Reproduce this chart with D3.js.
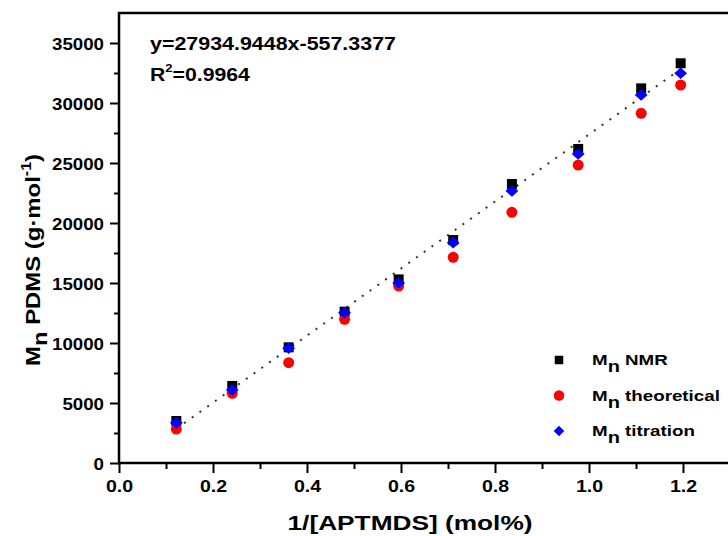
<!DOCTYPE html>
<html>
<head>
    <title>Mn PDMS vs 1/[APTMDS]</title>
    <script src="https://d3js.org/d3.v7.min.js"></script>
    <style>
        body { margin: 0; background: #fff; }
        text { font-family: "Liberation Sans", Arial, sans-serif; font-weight: bold; fill: #000; }
        .domain { display: none; }
        .tick line { stroke: #000; stroke-width: 2; }
    </style>
</head>
<body>
    <div id="chart"></div>
    <script>
        // values
        const xVals = [0.122, 0.241, 0.361, 0.480, 0.595, 0.711, 0.836, 0.977, 1.111, 1.195];
        const nmr = [3500, 6420, 9640, 12610, 15300, 18580, 23250, 26170, 31220, 33310];
        const theoretical = [2830, 5810, 8360, 11970, 14750, 17140, 20890, 24830, 29140, 31500];
        const titration = [3360, 6080, 9560, 12530, 15000, 18360, 22670, 25750, 30670, 32480];
        const xTicks = [0, 0.2, 0.4, 0.6, 0.8, 1.0, 1.2];
        const yTicks = [0, 5000, 10000, 15000, 20000, 25000, 30000, 35000];
        const fitSlope = 27934.9448, fitIntercept = -557.3377;

        const width = 728, height = 536;
        const plotLeft = 119, plotRight = 777, plotTop = 13, plotBottom = 463;

        const svg = d3.select("#chart").append("svg")
            .attr("width", width).attr("height", height);

        const x = d3.scaleLinear().domain([0, 1.4]).range([plotLeft, plotRight]);
        const y = d3.scaleLinear().domain([0, 37500]).range([plotBottom, plotTop]);

        // widen text a little, the source picture is stretched sideways
        function stretch(sel, k) {
            sel.each(function() {
                const w = this.getComputedTextLength();
                d3.select(this).attr("textLength", w * k).attr("lengthAdjust", "spacingAndGlyphs");
            });
        }

        // minor ticks
        svg.append("g").attr("transform", `translate(${plotLeft},0)`)
            .call(d3.axisLeft(y).tickValues(d3.range(2500, 37500, 5000)).tickSize(5).tickFormat(""));
        svg.append("g").attr("transform", `translate(0,${plotBottom})`)
            .call(d3.axisBottom(x).tickValues(d3.range(0.1, 1.4, 0.2)).tickSize(6).tickFormat(""));

        // major ticks
        const yAxis = svg.append("g").attr("transform", `translate(${plotLeft},0)`)
            .call(d3.axisLeft(y).tickValues(yTicks).tickSize(9).tickPadding(6).tickFormat(d3.format("d")));
        yAxis.selectAll("text").style("font-size", "17px").attr("dy", "0.36em");
        stretch(yAxis.selectAll("text"), 1.1);

        const xAxis = svg.append("g").attr("transform", `translate(0,${plotBottom})`)
            .call(d3.axisBottom(x).tickValues(xTicks).tickSize(10).tickPadding(7).tickFormat(d3.format(".1f")));
        xAxis.selectAll("text").style("font-size", "17px");
        stretch(xAxis.selectAll("text"), 1.15);

        // frame
        svg.append("rect")
            .attr("x", plotLeft).attr("y", plotTop)
            .attr("width", plotRight - plotLeft).attr("height", plotBottom - plotTop)
            .attr("fill", "none").attr("stroke", "#000").attr("stroke-width", 2.5);

        // fit line
        const fitX = d3.extent(xVals);
        svg.append("line")
            .attr("x1", x(fitX[0])).attr("y1", y(fitSlope * fitX[0] + fitIntercept))
            .attr("x2", x(fitX[1])).attr("y2", y(fitSlope * fitX[1] + fitIntercept))
            .attr("stroke", "#333").attr("stroke-width", 2)
            .attr("stroke-dasharray", "2,7.5");

        // markers
        const sq = d3.symbol().type(d3.symbolSquare).size(100);
        const ci = d3.symbol().type(d3.symbolCircle).size(95);
        const di = d3.symbol().type(d3.symbolSquare).size(68); // turned 45° below

        svg.append("g").selectAll("path").data(nmr).join("path")
            .attr("d", sq).attr("fill", "#000")
            .attr("transform", (d, i) => `translate(${x(xVals[i])},${y(d)})`);
        svg.append("g").selectAll("path").data(theoretical).join("path")
            .attr("d", ci).attr("fill", "#ff0000")
            .attr("transform", (d, i) => `translate(${x(xVals[i])},${y(d)})`);
        svg.append("g").selectAll("path").data(titration).join("path")
            .attr("d", di).attr("fill", "#0000ff")
            .attr("transform", (d, i) => `translate(${x(xVals[i])},${y(d)}) scale(1.1,1) rotate(45)`);

        // equation
        const eq = svg.append("text").attr("x", 150).attr("y", 50)
            .style("font-size", "18px").text("y=27934.9448x-557.3377");
        stretch(eq, 1.19);
        const r2 = svg.append("text").attr("x", 150).attr("y", 81).style("font-size", "18px");
        r2.append("tspan").text("R");
        r2.append("tspan").attr("dy", -9).style("font-size", "11px").text("2");
        r2.append("tspan").attr("dy", 9).text("=0.9964");
        stretch(r2, 1.18);

        // axis titles
        svg.append("text").attr("x", 410).attr("y", 530)
            .attr("text-anchor", "middle").style("font-size", "21px")
            .attr("textLength", 245).attr("lengthAdjust", "spacingAndGlyphs")
            .text("1/[APTMDS] (mol%)");

        const yt = svg.append("text")
            .attr("transform", "translate(40,260) rotate(-90)")
            .attr("text-anchor", "middle").style("font-size", "21px");
        yt.append("tspan").text("M");
        yt.append("tspan").attr("dy", 7).text("n");
        yt.append("tspan").attr("dy", -7).text(" PDMS (g·mol");
        yt.append("tspan").attr("dy", -9).style("font-size", "14px").text("-1");
        yt.append("tspan").attr("dy", 9).text(")");
        yt.attr("textLength", 212).attr("lengthAdjust", "spacingAndGlyphs");

        // legend
        const legendItems = [
            { label: "NMR", shape: sq, color: "#000", tf: "scale(0.85)" },
            { label: "theoretical", shape: ci, color: "#ff0000", tf: "scale(0.95)" },
            { label: "titration", shape: di, color: "#0000ff", tf: "scale(0.9) rotate(45)" }
        ];
        legendItems.forEach((item, i) => {
            const cy = 360 + i * 35.5;
            svg.append("path").attr("d", item.shape).attr("fill", item.color)
                .attr("transform", `translate(559,${cy}) ${item.tf}`);
            const t = svg.append("text").attr("x", 592).attr("y", cy + 5).style("font-size", "15px");
            t.append("tspan").text("M");
            t.append("tspan").attr("dy", 7).style("font-size", "16px").text("n");
            t.append("tspan").attr("dy", -7).text(" " + item.label);
            stretch(t, 1.25);
        });
    </script>
</body>
</html>
